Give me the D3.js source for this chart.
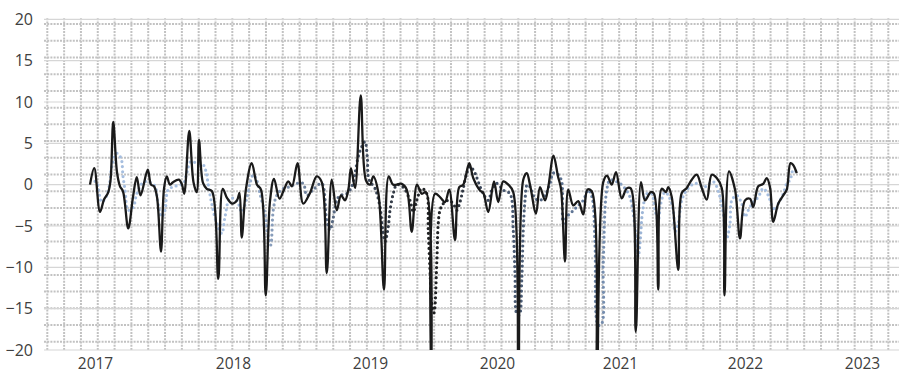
<!DOCTYPE html>
<html>
<head>
<meta charset="utf-8">
<script src="https://cdn.jsdelivr.net/npm/d3@7"></script>
<style>
  html, body { margin: 0; padding: 0; background: #fff; }
  svg { display: block; font-family: "Open Sans", sans-serif; }
</style>
</head>
<body>
<svg id="chart" width="899" height="373"></svg>
<script>
// x values are week numbers counted from the first observation
const yearLabels = ['2017', '2018', '2019', '2020', '2021', '2022', '2023'];
const yearWeeks = [2, 57.2, 112, 162.8, 212, 262, 308.8];
const yTicks = [20, 15, 10, 5, 0, -5, -10, -15, -20];

// solid black line
const actual = [
  [0, 0], [1.7, 2.0], [4, -3.3], [5.6, -1.8], [7.2, -1.0], [8.2, 0.5], [9.3, 7.6], [10.8, 1.5],
  [12, -0.2], [13.2, -0.8], [15.3, -5.3], [17.2, -1.5], [18.7, 0.9], [20.2, -1.3], [23.1, 1.8],
  [24.4, 0.0], [25.6, -0.2], [26.8, -1.5], [28.4, -8.1], [29.6, -0.5], [30.7, 1.0], [32, 0.0],
  [33.2, 0.3], [35.6, 0.6], [36.8, 0.0], [37.7, -1.1], [39.7, 6.5], [41.4, 0.3], [42.7, -0.9],
  [43.6, 5.4], [45.2, 0.2], [46.7, -0.5], [48.8, -0.8], [51.3, -11.4], [53.1, -0.5], [54.8, -1.6],
  [56.8, -2.3], [58.8, -1.9], [59.8, -1.0], [60.7, -6.4], [62.4, -0.5], [64.7, 2.6], [66.8, 0.0],
  [68.4, -0.6], [70.3, -13.4], [72, -2.0], [73.6, 0.7], [75.8, -1.7], [77.6, -0.6], [79.3, 0.4],
  [80.8, -0.2], [83, 2.6], [85.3, -2.3], [88, -1.0], [90.7, 1.0], [92.7, 0.3], [94.7, -10.7],
  [96.7, 0.6], [98.7, -3.1], [100.4, -1.3], [102, -1.9], [103.4, -0.5], [104.4, 2.0], [106, -0.4],
  [108.3, 10.8], [110.4, 0.5], [112, 0.0], [113.3, 1.0], [115.3, -0.9], [117.6, -12.7], [119.5, 1.0],
  [121.3, 0.0], [124.7, 0.1], [126.7, -0.6], [128.7, -5.7], [130.8, 0.0], [132.7, -1.1], [134.4, -0.9],
  [136.6, -30], [138, -1.1], [140, -1.5], [142, -2.1], [143.7, -0.6], [146, -6.7], [147.7, -0.3],
  [149.3, 0.0], [151.7, 2.6], [153.3, 0.8], [156, -0.7], [157.3, -1.0], [159.3, -3.3], [161.6, 0.4],
  [163.3, -2.1], [165.3, 0.4], [167.3, 0.0], [169.3, -0.9], [171.3, -30], [173.3, 0.6], [174.7, 1.4],
  [176, 0.0], [178.4, -3.5], [180, -0.3], [182, -1.9], [183.3, -0.3], [185.4, 3.5], [187.2, 1.0],
  [188.4, -0.5], [190, -9.3], [191.3, -0.6], [193.3, -2.5], [195.3, -2.0], [197.3, -3.6], [199, -0.6],
  [200.7, -0.8], [202.6, -30], [205.3, 0.3], [206.8, 1.1], [208.7, 0.0], [210.4, 1.5], [212.7, -1.65],
  [214.7, -0.45], [216.3, -0.45], [218.3, -17.8], [220.4, 0.3], [222, -1.9], [224.3, -0.9], [225.6, -1.1],
  [227.3, -12.7], [228.7, -0.5], [230.4, -0.9], [231.3, -0.3], [232.7, -1.5], [235.3, -10.3],
  [236.7, -1.0], [238.7, -0.4], [240.7, 0.6], [242.7, 1.2], [244.7, -0.4], [246.7, -1.8], [248.7, 1.2],
  [250.7, 0.8], [252.7, -0.4], [253.8, -13.4], [255.6, 1.6], [258, -0.6], [260, -6.5], [262, -1.9],
  [264, -1.7], [265.3, -2.7], [267.3, -0.2], [269.3, 0.1], [270.7, 0.8], [272, -0.3], [273.3, -4.5],
  [275.3, -2.3], [277.3, -1.3], [278.7, -0.6], [280.2, 2.6], [281.2, 2.4], [282.7, 1.4]
];

// dotted line
const estimate = [
  [2, 0.4], [2.8, 0.2], [4.7, -2.1], [6.7, -1.3], [8, 0.4], [8.7, 2.2], [10.7, 3.8], [12.4, 3.2],
  [13.2, 1.0], [14, -0.6], [15.3, -3.1], [17.3, -2.7], [18.7, -1.1], [21.3, 0.3], [23.3, 0.35],
  [26, -0.2], [27, -1.9], [28.7, -3.9], [30, -3.1], [31.3, -0.6], [34, -0.2], [37.3, 0.15],
  [38.7, 1.4], [40.3, 2.8], [42.7, 2.6], [45.3, 2.4], [46.4, 1.6], [47.3, 0.0], [48.7, -2.3],
  [50.7, -4.7], [52.7, -5.9], [54, -3.9], [56, -1.65], [58.7, -1.9], [60.7, -3.3], [62.7, -1.65],
  [64, 0.15], [65.3, 1.2], [66.7, 0.55], [68, -1.1], [70, -3.5], [71.3, -6.3], [72.3, -7.3],
  [73.3, -3.1], [74.7, -1.3], [77.3, -0.45], [80, -0.25], [82.7, 0.15], [85.3, 0.15], [86.7, -1.3],
  [89.6, -0.5], [92.7, 0.15], [94.7, -4.3], [96, -5.5], [97.1, -4.3], [98.7, -1.9], [100, -1.3],
  [102.7, -1.1], [104.7, -0.25], [106, 1.4], [107.3, 3.4], [108.7, 4.6], [110, 5.2], [110.9, 3.4],
  [111.6, 0.6], [114, -0.45], [116, -2.7], [117.1, -5.5], [118, -6.9], [119.3, -5.1], [120, -3.1],
  [121.3, -1.1], [122.7, 0.0], [125.2, -0.3], [128, -1.9], [129.3, -3.3], [130.7, -1.9], [132.7, -0.45],
  [134.7, -1.1], [135.3, -5.5], [136, -10.3], [136.7, -14.4], [137.6, -15.5], [138.7, -9.5],
  [139.3, -4.7], [140, -3.1], [141.3, -2.3], [143.3, -1.9], [145.3, -2.3], [146.7, -3.1], [148, -2.1],
  [149.3, -0.45], [150.7, 1.4], [152, 2.2], [154, 1.4], [155.3, 0.35], [157.3, -1.1], [159.3, -1.9],
  [160.8, -0.6], [162.7, 0.15], [165.3, -0.65], [168, -1.1], [169.3, -5.5], [170, -10.7],
  [170.7, -15.6], [171.7, -15.8], [172.7, -11.5], [173.3, -5.5], [174, -1.9], [174.9, 0.0],
  [176, -0.25], [178, -1.65], [180, -1.9], [182, -1.3], [184, 0.15], [185.3, 1.4], [187.3, 1.2],
  [188.7, 0.35], [189.3, -4.7], [190.7, -3.9], [192.7, -3.3], [194.7, -2.7], [197.3, -1.9],
  [199.3, -0.65], [200.8, -1.5], [202, -7.1], [203.3, -17.0], [204.7, -16.8], [205.3, -9.5],
  [206.7, -0.65], [208, 0.55], [210.7, 0.35], [212, 0.15], [214, -0.45], [216, -1.5], [217.3, -3.5],
  [218.7, -7.1], [219.3, -8.7], [220, -7.1], [221.1, -3.1], [222.7, -1.1], [224.7, -1.1], [226, -3.1],
  [227.3, -4.3], [228.3, -2.3], [230, -0.9], [231.7, -1.5], [233.3, -3.1], [234, -5.7], [235.3, -4.7],
  [236.7, -1.9], [238.7, -0.65], [242, 0.15], [246, -0.25], [249.3, 0.35], [252, -1.5], [253.3, -3.5],
  [254.7, -6.5], [256, -4.7], [256.7, -1.9], [258.7, -1.3], [260.7, -2.3], [262, -3.9], [263.3, -3.1],
  [265.3, -2.1], [267.3, -1.5], [269.3, -0.45], [271.3, -1.3], [272.7, -2.5], [274, -3.1], [275.3, -2.3],
  [277.3, -1.1], [278.7, 0.15], [280, 0.55], [281.3, 1.8], [282.4, 1.6]
];

// colour of the dotted line along the weeks
const estimateColors = [
  [0, '#a6bedf'], [56, '#a6bedf'], [78, '#7f93b0'], [104, '#4a5a72'], [137, '#1e1e1e'],
  [158, '#3e4b60'], [200, '#667ea0'], [224, '#a6bedf'], [290, '#a6bedf']
];

const svg = d3.select('#chart');
const plotLeft = 44, plotRight = 899, plotTop = 19.3, plotBottom = 350;

const x = d3.scaleLinear().domain([-18.4, 323.6]).range([plotLeft, plotRight]);
const y = d3.scaleLinear().domain([-20, 20]).range([plotBottom, plotTop]);

// dotted background grid
const gridStep = 6.728;
const vGrid = d3.range(51).map(k => -17.08 + k * gridStep);
const hGrid = d3.range(20).map(k => 19.43 - k * 2.023);

svg.append('g')
  .selectAll('line').data(hGrid).enter()
  .append('line')
  .attr('x1', plotLeft).attr('x2', plotRight)
  .attr('y1', d => y(d)).attr('y2', d => y(d))
  .style('stroke', '#c2c2c2')
  .style('stroke-width', 2)
  .style('stroke-dasharray', '2,1.2');

svg.append('g')
  .selectAll('line').data(vGrid).enter()
  .append('line')
  .attr('x1', d => x(d)).attr('x2', d => x(d))
  .attr('y1', plotTop - 1).attr('y2', plotBottom)
  .style('stroke', '#c2c2c2')
  .style('stroke-width', 2)
  .style('stroke-dasharray', '2,1.2');

// major gridlines
svg.append('g')
  .selectAll('line').data(yTicks).enter()
  .append('line')
  .attr('x1', plotLeft).attr('x2', plotRight)
  .attr('y1', d => y(d)).attr('y2', d => y(d))
  .style('stroke', '#d6d6d6')
  .style('stroke-width', 1.2);

// axes
const yAxis = svg.append('g')
  .attr('transform', `translate(${plotLeft},0)`)
  .call(d3.axisLeft(y).tickValues(yTicks).tickSize(0).tickPadding(11)
    .tickFormat(d => d < 0 ? '\u2212' + Math.abs(d) : d));
yAxis.select('.domain').remove();
yAxis.selectAll('text')
  .attr('font-size', 16)
  .attr('font-family', '"Open Sans", sans-serif')
  .attr('fill', '#404040');

const xAxis = svg.append('g')
  .attr('transform', `translate(0,${plotBottom})`)
  .call(d3.axisBottom(x).tickValues(yearWeeks).tickSize(0).tickPadding(8)
    .tickFormat((d, i) => yearLabels[i]));
xAxis.select('.domain').remove();
xAxis.selectAll('text')
  .attr('font-size', 15.5)
  .attr('font-family', '"Open Sans", sans-serif')
  .attr('fill', '#404040');

// clip for lines that run below -20
svg.append('clipPath').attr('id', 'plotClip')
  .append('rect')
  .attr('x', plotLeft).attr('y', plotTop)
  .attr('width', plotRight - plotLeft).attr('height', plotBottom - plotTop);

// gradient for the dotted series
const wMin = estimateColors[0][0], wMax = estimateColors[estimateColors.length - 1][0];
const grad = svg.append('defs').append('linearGradient')
  .attr('id', 'estGrad')
  .attr('gradientUnits', 'userSpaceOnUse')
  .attr('x1', x(wMin)).attr('x2', x(wMax))
  .attr('y1', 0).attr('y2', 0);
grad.selectAll('stop').data(estimateColors).enter()
  .append('stop')
  .attr('offset', d => (d[0] - wMin) / (wMax - wMin))
  .attr('stop-color', d => d[1]);

const line = d3.line()
  .x(d => x(d[0]))
  .y(d => y(d[1]))
  .curve(d3.curveCatmullRom.alpha(0.5));

const plot = svg.append('g').attr('clip-path', 'url(#plotClip)');

plot.append('path')
  .datum(estimate)
  .attr('d', line)
  .style('fill', 'none')
  .style('stroke', 'url(#estGrad)')
  .style('stroke-width', 3.2)
  .style('stroke-linecap', 'round')
  .style('stroke-dasharray', '0,5');

plot.append('path')
  .datum(actual)
  .attr('d', line)
  .style('fill', 'none')
  .style('stroke', '#1a1a1a')
  .style('stroke-width', 2.3);
</script>
</body>
</html>
